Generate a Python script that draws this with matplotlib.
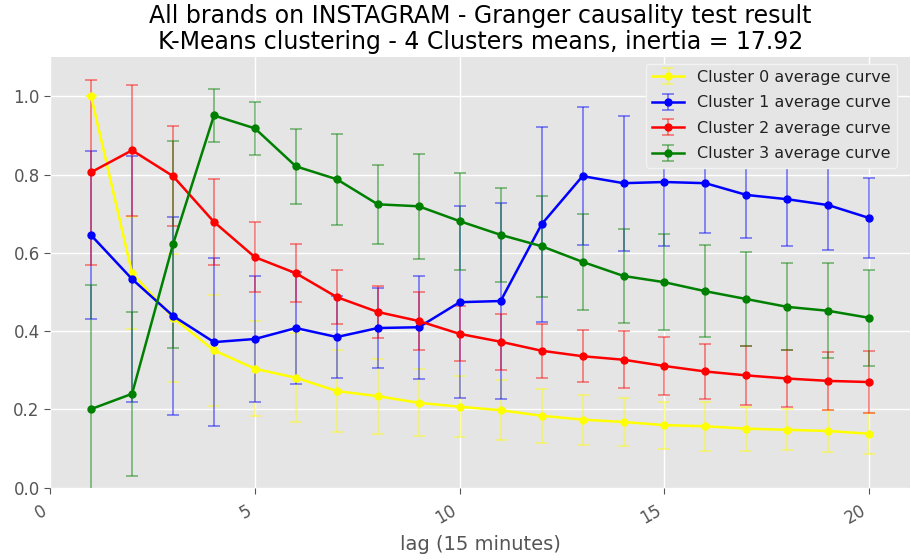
import matplotlib
matplotlib.use("Agg")
import matplotlib.pyplot as plt
import numpy as np

lags = list(range(1, 21))

c0_mean = [1.000, 0.548, 0.434, 0.351, 0.304, 0.281, 0.247, 0.234, 0.217, 0.207,
           0.198, 0.184, 0.174, 0.168, 0.160, 0.157, 0.151, 0.148, 0.145, 0.138]
c0_std = [0.000, 0.143, 0.163, 0.142, 0.121, 0.114, 0.104, 0.096, 0.086, 0.078,
          0.077, 0.069, 0.064, 0.062, 0.060, 0.062, 0.056, 0.052, 0.053, 0.052]

c1_mean = [0.645, 0.533, 0.439, 0.372, 0.380, 0.408, 0.385, 0.408, 0.410, 0.474,
           0.477, 0.673, 0.796, 0.778, 0.781, 0.778, 0.748, 0.737, 0.722, 0.689]
c1_std = [0.214, 0.314, 0.252, 0.214, 0.162, 0.143, 0.104, 0.102, 0.131, 0.245,
          0.250, 0.249, 0.177, 0.172, 0.164, 0.128, 0.110, 0.120, 0.115, 0.102]

c2_mean = [0.806, 0.862, 0.796, 0.679, 0.589, 0.548, 0.487, 0.449, 0.426, 0.393,
           0.373, 0.350, 0.336, 0.327, 0.311, 0.297, 0.287, 0.279, 0.273, 0.270]
c2_std = [0.236, 0.167, 0.127, 0.110, 0.090, 0.074, 0.068, 0.066, 0.073, 0.070,
          0.072, 0.069, 0.066, 0.073, 0.074, 0.070, 0.075, 0.073, 0.075, 0.080]

c3_mean = [0.201, 0.240, 0.622, 0.951, 0.918, 0.821, 0.788, 0.724, 0.719, 0.681,
           0.646, 0.617, 0.577, 0.541, 0.525, 0.502, 0.482, 0.462, 0.452, 0.434]
c3_std = [0.317, 0.210, 0.264, 0.068, 0.067, 0.096, 0.116, 0.101, 0.134, 0.124,
          0.120, 0.129, 0.122, 0.119, 0.122, 0.118, 0.120, 0.111, 0.121, 0.122]

series = [
    ("Cluster 0 average curve", c0_mean, c0_std, "yellow"),
    ("Cluster 1 average curve", c1_mean, c1_std, "blue"),
    ("Cluster 2 average curve", c2_mean, c2_std, "red"),
    ("Cluster 3 average curve", c3_mean, c3_std, "green"),
]

fig = plt.figure(figsize=(9.12, 5.6), dpi=100)
ax = fig.add_axes([0.055, 0.129, 0.943, 0.769])
ax.set_facecolor("#E5E5E5")
for s in ax.spines.values():
    s.set_visible(False)
ax.grid(True, color="white", linewidth=1.0)
ax.set_axisbelow(True)

for label, m, sd, col in series:
    eb = ax.errorbar(lags, m, yerr=sd, color=col, marker="o", markersize=5,
                     linewidth=1.8, capsize=4, elinewidth=1.2, capthick=1.2,
                     label=label)
    for b in eb[1]:
        b.set_alpha(0.5)
    for b in eb[2]:
        b.set_alpha(0.5)

ax.set_xlim(0, 21)
ax.set_ylim(0, 1.1)
ax.set_xticks([0, 5, 10, 15, 20])
ax.set_yticks([0.0, 0.2, 0.4, 0.6, 0.8, 1.0])
ax.tick_params(colors="#555555", labelsize=12, length=4, direction="out")
ax.tick_params(axis="x", labelrotation=30, pad=6)
for t in ax.get_xticklabels():
    t.set_ha("right")
ax.set_xlabel("lag (15 minutes)", fontsize=14, color="#555555", labelpad=5)
ax.set_title("All brands on INSTAGRAM - Granger causality test result\n"
             "K-Means clustering - 4 Clusters means, inertia = 17.92",
             fontsize=17, color="black", pad=6, linespacing=1.1)

leg = ax.legend(loc="upper right", bbox_to_anchor=(0.985, 0.985),
                borderaxespad=0, fontsize=11.5, facecolor="#E5E5E5",
                edgecolor="#F2F2F2", framealpha=1.0, labelspacing=0.65)
for t in leg.get_texts():
    t.set_color("#222222")

fig.savefig("out.png", dpi=100)
